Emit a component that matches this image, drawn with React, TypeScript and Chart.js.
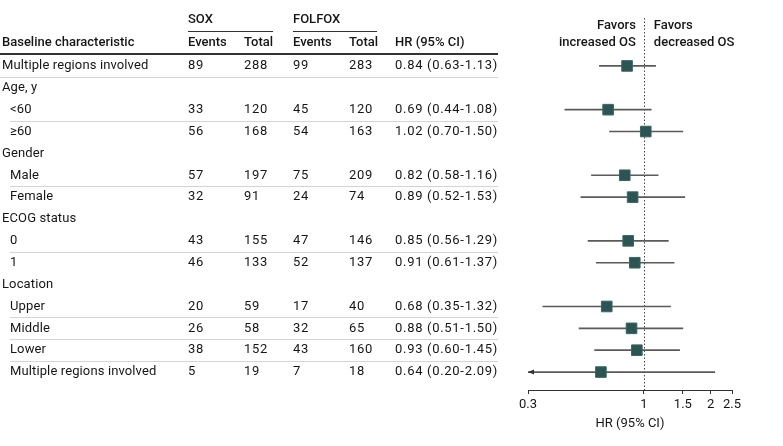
import React, { useEffect, useRef } from "react";
import { Chart, registerables } from "chart.js";

Chart.register(...registerables);

const rowLabels = [
  "Multiple regions involved",
  "Age, y",
  "<60",
  "≥60",
  "Gender",
  "Male",
  "Female",
  "ECOG status",
  "0",
  "1",
  "Location",
  "Upper",
  "Middle",
  "Lower",
  "Multiple regions involved",
];
const isSubRow = [false, false, true, true, false, true, true, false, true, true, false, true, true, true, true];
const soxEvents = [89, null, 33, 56, null, 57, 32, null, 43, 46, null, 20, 26, 38, 5];
const soxTotal = [288, null, 120, 168, null, 197, 91, null, 155, 133, null, 59, 58, 152, 19];
const folfoxEvents = [99, null, 45, 54, null, 75, 24, null, 47, 52, null, 17, 32, 43, 7];
const folfoxTotal = [283, null, 120, 163, null, 209, 74, null, 146, 137, null, 40, 65, 160, 18];
const hr = [0.84, null, 0.69, 1.02, null, 0.82, 0.89, null, 0.85, 0.91, null, 0.68, 0.88, 0.93, 0.64];
const ciLow = [0.63, null, 0.44, 0.7, null, 0.58, 0.52, null, 0.56, 0.61, null, 0.35, 0.51, 0.6, 0.2];
const ciHigh = [1.13, null, 1.08, 1.5, null, 1.16, 1.53, null, 1.29, 1.37, null, 1.32, 1.5, 1.45, 2.09];
const separatorAfter = [0, 2, 5, 8, 11, 12, 13];
const xTicks = [0.3, 1, 1.5, 2, 2.5];

const FONT = "Roboto";
const TEXT = "#161616";

function fmt(v: number) {
  return v.toFixed(2);
}

export default function App() {
  const ref = useRef<HTMLCanvasElement | null>(null);
  useEffect(() => {
    if (!ref.current) return;
    const ciData: any[] = [];
    const hrData: any[] = [];
    rowLabels.forEach((_, i) => {
      if (hr[i] != null) {
        ciData.push({ x: [ciLow[i], ciHigh[i]], y: i });
        hrData.push({ x: hr[i], y: i });
      }
    });

    const tablePlugin = {
      id: "table",
      beforeDatasetsDraw(chart: any) {
        const ctx = chart.ctx;
        const xs = chart.scales.x;
        const x1 = xs.getPixelForValue(1);
        ctx.save();
        ctx.strokeStyle = "#444";
        ctx.lineWidth = 1;
        ctx.setLineDash([1.5, 2]);
        ctx.beginPath();
        ctx.moveTo(Math.round(x1) + 0.5, 18);
        ctx.lineTo(Math.round(x1) + 0.5, chart.chartArea.bottom);
        ctx.stroke();
        ctx.restore();
      },
      afterDatasetsDraw(chart: any) {
        const ctx = chart.ctx;
        const xs = chart.scales.x;
        const ys = chart.scales.y;
        const x1 = xs.getPixelForValue(1);
        const y0 = ys.getPixelForValue(0);
        const step = ys.getPixelForValue(1) - y0;
        ctx.save();
        // arrows for CIs clipped at the axis minimum
        rowLabels.forEach((_, i) => {
          if (ciLow[i] != null && (ciLow[i] as number) < xs.min) {
            const ax = xs.getPixelForValue(xs.min);
            const ay = ys.getPixelForValue(i);
            ctx.fillStyle = "#333";
            ctx.beginPath();
            ctx.moveTo(ax, ay);
            ctx.lineTo(ax + 6, ay - 2.5);
            ctx.lineTo(ax + 6, ay + 2.5);
            ctx.closePath();
            ctx.fill();
          }
        });
        ctx.textBaseline = "middle";
        ctx.fillStyle = TEXT;
        // favors labels
        ctx.font = `500 13px ${FONT}`;
        ctx.textAlign = "right";
        ctx.fillText("Favors", x1 - 8, 26);
        ctx.fillText("increased OS", x1 - 8, 43);
        ctx.textAlign = "left";
        ctx.fillText("Favors", x1 + 10, 26);
        ctx.fillText("decreased OS", x1 + 10, 43);

        const cols = [188, 244, 293, 349, 395];
        const tableRight = 498;
        // headers
        const hY1 = y0 - 46;
        const hY2 = y0 - 23;
        ctx.fillText("SOX", cols[0], hY1);
        ctx.fillText("FOLFOX", cols[2], hY1);
        ctx.fillText("Baseline characteristic", 2, hY2);
        ctx.fillText("Events", cols[0], hY2);
        ctx.fillText("Total", cols[1], hY2);
        ctx.fillText("Events", cols[2], hY2);
        ctx.fillText("Total", cols[3], hY2);
        ctx.fillText("HR (95% CI)", cols[4], hY2);
        ctx.strokeStyle = "#333";
        ctx.lineWidth = 1;
        ctx.beginPath();
        ctx.moveTo(cols[0], Math.round(hY1 + 11) + 0.5);
        ctx.lineTo(273, Math.round(hY1 + 11) + 0.5);
        ctx.moveTo(cols[2], Math.round(hY1 + 11) + 0.5);
        ctx.lineTo(377, Math.round(hY1 + 11) + 0.5);
        ctx.stroke();
        ctx.lineWidth = 2;
        ctx.beginPath();
        ctx.moveTo(0, Math.round(y0 - 12));
        ctx.lineTo(tableRight, Math.round(y0 - 12));
        ctx.stroke();
        // separators
        ctx.strokeStyle = "#d4d4d4";
        ctx.lineWidth = 1;
        separatorAfter.forEach((i) => {
          const sy = Math.round(ys.getPixelForValue(i) + step / 2) + 0.5;
          ctx.beginPath();
          ctx.moveTo(isSubRow[i] ? 10 : 0, sy);
          ctx.lineTo(tableRight, sy);
          ctx.stroke();
        });
        // rows
        ctx.font = `400 13px ${FONT}`;
        ctx.fillStyle = TEXT;
        rowLabels.forEach((lab, i) => {
          const y = ys.getPixelForValue(i);
          (ctx as any).letterSpacing = "0.12px";
          ctx.fillText(lab, isSubRow[i] ? 10 : 2, y);
          if (hr[i] != null) {
            (ctx as any).letterSpacing = "0.7px";
            ctx.fillText(String(soxEvents[i]), cols[0], y);
            ctx.fillText(String(soxTotal[i]), cols[1], y);
            ctx.fillText(String(folfoxEvents[i]), cols[2], y);
            ctx.fillText(String(folfoxTotal[i]), cols[3], y);
            ctx.fillText(
              `${fmt(hr[i] as number)} (${fmt(ciLow[i] as number)}-${fmt(ciHigh[i] as number)})`,
              cols[4],
              y
            );
          }
        });
        (ctx as any).letterSpacing = "0px";
        ctx.restore();
      },
    };

    const chart = new Chart(ref.current, {
      type: "bar",
      data: {
        datasets: [
          {
            type: "bar",
            data: ciData,
            backgroundColor: "#5a5a5a",
            barThickness: 1,
            order: 2,
          } as any,
          {
            type: "scatter",
            data: hrData,
            pointStyle: "rect",
            pointRadius: 7.5,
            backgroundColor: "#2a5553",
            borderColor: "#3a6664",
            borderWidth: 1,
            order: 1,
          } as any,
        ],
      },
      options: {
        animation: false,
        responsive: false,
        indexAxis: "y",
        layout: { padding: { left: 528, right: 51, top: 55, bottom: 0 } },
        plugins: { legend: { display: false }, tooltip: { enabled: false } },
        scales: {
          x: {
            type: "logarithmic",
            min: 0.3,
            max: 2.5,
            offset: false,
            afterBuildTicks: (scale: any) => {
              scale.ticks = xTicks.map((v) => ({ value: v }));
            },
            afterFit: (scale: any) => {
              scale.height = 56;
            },
            ticks: {
              autoSkip: false,
              maxRotation: 0,
              color: TEXT,
              font: { family: FONT, size: 13 },
              padding: 3,
              callback: (v: any) => String(v),
            },
            grid: { display: true, drawOnChartArea: false, drawTicks: true, tickLength: 4, color: "#333", offset: false },
            border: { display: true, color: "#333", width: 1 },
            title: {
              display: true,
              text: "HR (95% CI)",
              color: TEXT,
              font: { family: FONT, size: 13 },
              padding: { top: 4, bottom: 14 },
            },
          },
          y: {
            type: "linear",
            min: -0.5,
            max: 14.82,
            reverse: true,
            display: false,
            offset: false,
            grid: { offset: false },
          },
        },
      },
      plugins: [tablePlugin],
    } as any);
    return () => chart.destroy();
  }, []);
  return (
    <canvas
      ref={ref}
      width={783}
      height={446}
      style={{ position: "absolute", left: 0, top: 0, width: 783, height: 446 }}
    />
  );
}
